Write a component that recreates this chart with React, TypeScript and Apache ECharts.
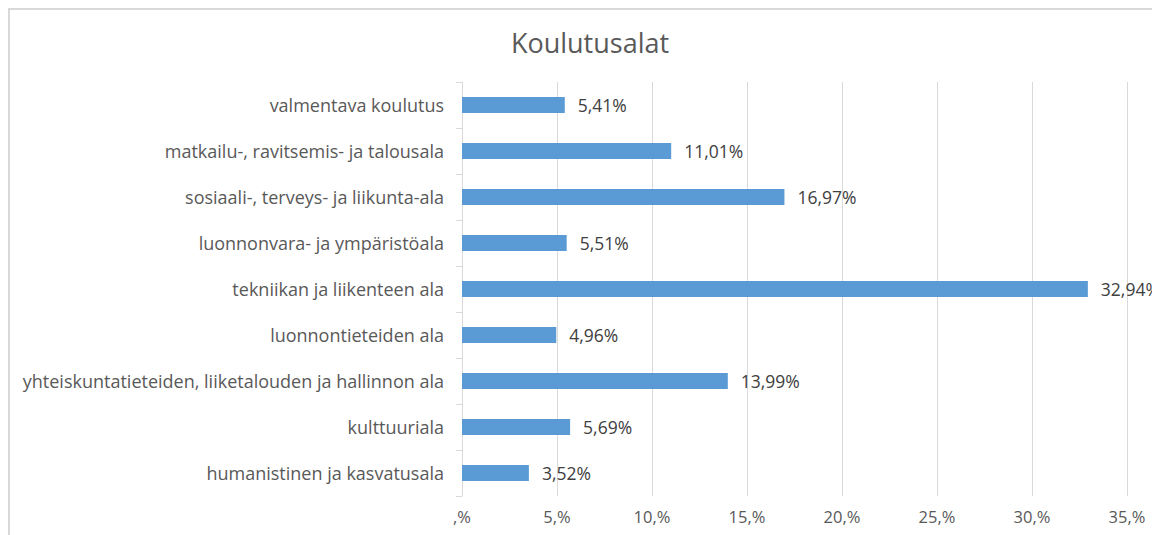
import React, { useEffect, useRef } from "react";
import * as echarts from "echarts";

const categories = [
  "humanistinen ja kasvatusala",
  "kulttuuriala",
  "yhteiskuntatieteiden, liiketalouden ja hallinnon ala",
  "luonnontieteiden ala",
  "tekniikan ja liikenteen ala",
  "luonnonvara- ja ympäristöala",
  "sosiaali-, terveys- ja liikunta-ala",
  "matkailu-, ravitsemis- ja talousala",
  "valmentava koulutus",
];
const values = [3.52, 5.69, 13.99, 4.96, 32.94, 5.51, 16.97, 11.01, 5.41];
const title = "Koulutusalat";

const FONT = "'Open Sans', 'Noto Sans', sans-serif";

export default function App() {
  const ref = useRef<HTMLDivElement>(null);
  useEffect(() => {
    if (!ref.current) return;
    const chart = echarts.init(ref.current, null, { renderer: "svg" });
    chart.setOption({
      animation: false,
      backgroundColor: "#ffffff",
      title: {
        text: title,
        left: 577,
        top: 16,
        textAlign: "center",
        textStyle: { fontFamily: FONT, fontSize: 27, fontWeight: "normal", color: "#595959" },
      },
      graphic: [
        {
          type: "polyline",
          shape: { points: [[1, 800], [1, 1], [1400, 1]] },
          style: { fill: "none", stroke: "#d9d9d9", lineWidth: 2 },
          silent: true,
        },
      ],
      grid: { left: 454, right: 33, top: 74, bottom: 39, containLabel: false },
      xAxis: {
        type: "value",
        min: 0,
        max: 35,
        interval: 5,
        axisLine: { show: false },
        axisTick: { show: false },
        splitLine: { show: true, lineStyle: { color: "#d9d9d9", width: 1 } },
        axisLabel: {
          margin: 12,
          fontFamily: FONT,
          fontSize: 16.5,
          color: "#595959",
          formatter: (v: number) => (v === 0 ? ",%" : v + ",%"),
        },
      },
      yAxis: {
        type: "category",
        data: categories,
        axisLine: { show: true, lineStyle: { color: "#d9d9d9", width: 1 } },
        axisTick: { show: true, length: 6, lineStyle: { color: "#d9d9d9" } },
        axisLabel: {
          margin: 18,
          fontFamily: FONT,
          fontSize: 18,
          color: "#595959",
        },
      },
      series: [
        {
          type: "bar",
          data: values,
          barWidth: 16,
          itemStyle: { color: "#5b9bd5" },
          label: {
            show: true,
            position: "right",
            distance: 13,
            fontFamily: FONT,
            fontSize: 17.5,
            color: "#404040",
            formatter: (p: any) => p.value.toFixed(2).replace(".", ",") + "%",
          },
        },
      ],
    });
    return () => chart.dispose();
  }, []);
  return <div ref={ref} style={{ width: 1152, height: 527 }} />;
}
